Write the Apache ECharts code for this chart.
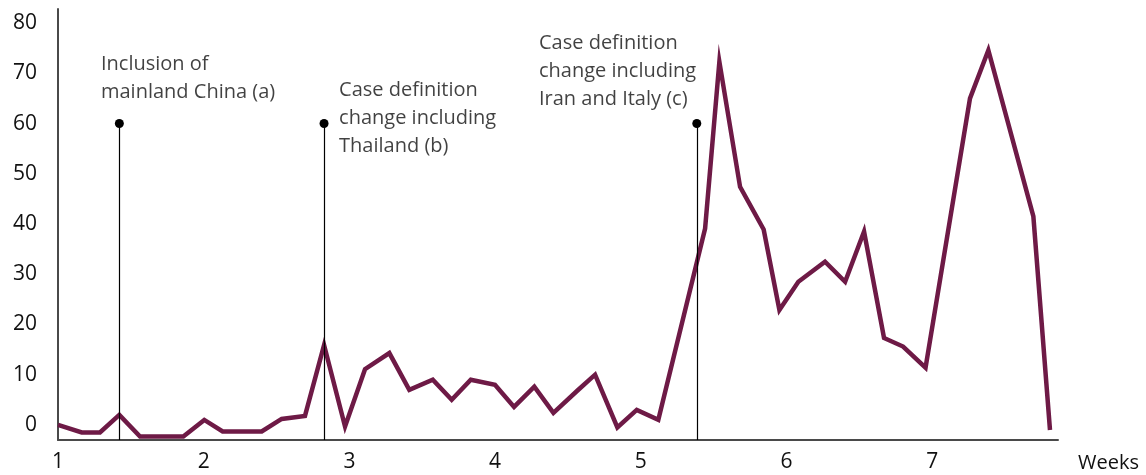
<!DOCTYPE html>
<html>
<head>
<meta charset="utf-8">
<script src="https://cdn.jsdelivr.net/npm/echarts@6/dist/echarts.min.js"></script>
<style>
  html, body { margin: 0; padding: 0; background: #ffffff; }
  #chart { width: 1146px; height: 475px; }
</style>
</head>
<body>
<div id="chart"></div>
<script>
const weeks = [1.0, 1.163, 1.288, 1.421, 1.563, 1.714, 1.860, 2.004, 2.130, 2.263, 2.398,
  2.535, 2.695, 2.826, 2.970, 3.107, 3.274, 3.411, 3.572, 3.702, 3.833, 3.999, 4.130,
  4.269, 4.400, 4.571, 4.686, 4.839, 4.972, 5.120, 5.441, 5.539, 5.681, 5.843, 5.951,
  6.081, 6.264, 6.402, 6.532, 6.669, 6.800, 6.954, 7.259, 7.385, 7.694, 7.808];
// Series values
const cases = [0.0, -1.5, -1.5, 2.0, -2.3, -2.3, -2.3, 1.0, -1.3, -1.3, -1.3,
  1.2, 1.8, 15.9, -0.3, 11.1, 14.3, 7.0, 9.0, 5.0, 9.0, 8.0, 3.6,
  7.6, 2.4, 7.0, 10.0, -0.5, 3.0, 1.0, 39.1, 72.3, 47.4, 38.9, 22.9,
  28.5, 32.5, 28.5, 38.5, 17.3, 15.6, 11.4, 65.0, 74.6, 41.5, -1.0];
// Tick labels
const yTicks = [0, 10, 20, 30, 40, 50, 60, 70, 80];
const xTicks = [1, 2, 3, 4, 5, 6, 7];
// Annotations: position of event line (week) and text
const eventWeeks = [1.421, 2.826, 5.384];
const eventTop = 60;
const eventTexts = [
  'Inclusion of\nmainland China (a)',
  'Case definition\nchange including\nThailand (b)',
  'Case definition\nchange including\nIran and Italy (c)'
];
const textAnchors = [[1.295, 74.6], [2.929, 69.5], [4.301, 78.8]];

const FONT = '"Open Sans", sans-serif';
const TXT = '#111111';
const chart = echarts.init(document.getElementById('chart'), null, { renderer: 'canvas' });

const lineData = weeks.map((w, i) => [w, cases[i]]);

const option = {
  animation: false,
  backgroundColor: '#ffffff',
  grid: { left: 58, right: 88, top: 9, bottom: 35, containLabel: false },
  xAxis: {
    type: 'value',
    min: 1,
    max: 7.863,
    interval: 1,
    name: 'Weeks',
    nameLocation: 'end',
    nameGap: 20,
    nameTextStyle: { fontFamily: FONT, fontSize: 20, color: TXT, verticalAlign: 'top', align: 'left', padding: [13, 0, 0, 0] },
    axisLine: { show: true, onZero: false, lineStyle: { color: '#4a4a4a', width: 2 } },
    axisTick: { show: false },
    splitLine: { show: false },
    axisLabel: {
      customValues: xTicks,
      fontFamily: FONT, fontSize: 21, color: TXT, margin: 12,
      formatter: v => String(v)
    }
  },
  yAxis: {
    type: 'value',
    min: -3,
    max: 82.8,
    axisLine: { show: true, lineStyle: { color: '#4a4a4a', width: 2 } },
    axisTick: { show: false },
    splitLine: { show: false },
    axisLabel: {
      customValues: yTicks,
      fontFamily: FONT, fontSize: 21, color: TXT, margin: 21,
      formatter: v => String(v)
    }
  },
  series: [
    {
      type: 'line',
      data: lineData,
      symbol: 'none',
      lineStyle: { color: '#6e1a46', width: 4.5, join: 'miter' },
      z: 3,
      markLine: {
        silent: true,
        symbol: ['none', 'circle'],
        symbolSize: 9,
        label: { show: false },
        lineStyle: { color: '#000', width: 1.2, type: 'solid' },
        itemStyle: { color: '#000' },
        data: eventWeeks.map(w => [
          { coord: [w, -3], symbol: 'none' },
          { coord: [w, eventTop], symbol: 'circle', symbolSize: 9 }
        ])
      }
    },
    {
      type: 'scatter',
      symbolSize: 0,
      silent: true,
      data: textAnchors.map((p, i) => ({ value: p, name: eventTexts[i] })),
      label: {
        show: true,
        position: [0, 0],
        align: 'left',
        verticalAlign: 'top',
        fontFamily: FONT,
        fontSize: 20,
        lineHeight: 28,
        color: TXT,
        formatter: p => p.name
      },
      z: 4
    }
  ]
};
chart.setOption(option);
</script>
</body>
</html>
